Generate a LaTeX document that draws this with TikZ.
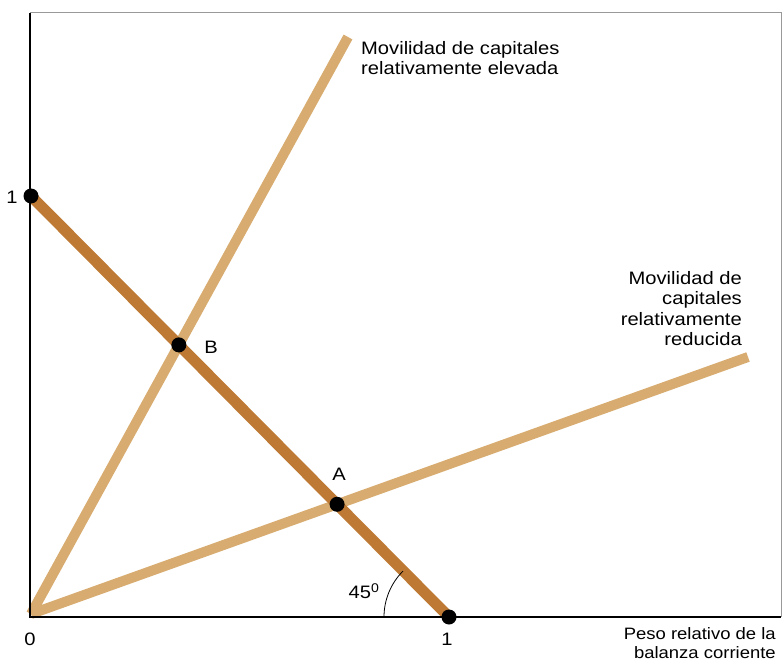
\documentclass[tikz,border=0pt]{standalone}
\usepackage{fontspec}
\setmainfont{Liberation Sans}[FakeStretch=1.12]
\usetikzlibrary{intersections}
\definecolor{tanline}{RGB}{216,172,112}
\definecolor{brownline}{RGB}{190,122,52}
\begin{document}
\begin{tikzpicture}[x=1pt,y=-1pt,
  tanstroke/.style={draw=tanline,line width=10pt},
  brownstroke/.style={draw=brownline,line width=11pt},
  dotnode/.style={circle,fill=black,inner sep=0pt,minimum size=15pt},
  lbl/.style={font=\fontsize{18}{20.5}\selectfont,inner sep=0pt},
  smalllbl/.style={font=\fontsize{16.5}{19.5}\selectfont,inner sep=0pt}]
\useasboundingbox (0,0) rectangle (782,663);
% coordinates
\coordinate (O) at (31,614);
\coordinate (Y1) at (31,196);
\coordinate (X1) at (449,617);
\coordinate (E) at (348,37);
\coordinate (R) at (748,357);
% lines
\draw[tanstroke,name path=steep] (O) -- (E);
\draw[tanstroke,name path=shallow] (O) -- (R);
\draw[brownstroke,name path=main] (Y1) -- (X1);
\path[name intersections={of=steep and main,by=Bp}];
\path[name intersections={of=shallow and main,by=Ap}];
% frame
\draw[gray!80,line width=1pt] (30,13) -- (781,13) -- (781,617);
\draw[black,line width=2.5pt] (30,13) -- (30,617) -- (781,617);
% dots
\node[dotnode] (d1) at (Y1) {};
\node[dotnode] (d2) at (X1) {};
\node[dotnode] (B) at (Bp) {};
\node[dotnode] (A) at (Ap) {};
% angle arc
\draw[black,line width=0.8pt] (384,617) arc[start angle=180,end angle=225,radius=65];
% labels
\node[lbl] (lB) at (211,347) {B};
\node[lbl] (lA) at (339,474) {A};
\node[lbl] (l1y) at (12,197) {1};
\node[lbl] (l0) at (30,639) {0};
\node[lbl] (l1x) at (447,639) {1};
\node[lbl] (l45) at (364,591) {45\textsuperscript{0}};
\node[lbl,anchor=north west,align=left] (lhigh) at (361,41) {Movilidad de capitales\\relativamente elevada};
\node[lbl,anchor=north east,align=right] (llow) at (742,271) {Movilidad de\\capitales\\relativamente\\reducida};
\node[smalllbl,anchor=north east,align=right] (lx) at (776,627) {Peso relativo de la\\balanza corriente};
\end{tikzpicture}
\end{document}
